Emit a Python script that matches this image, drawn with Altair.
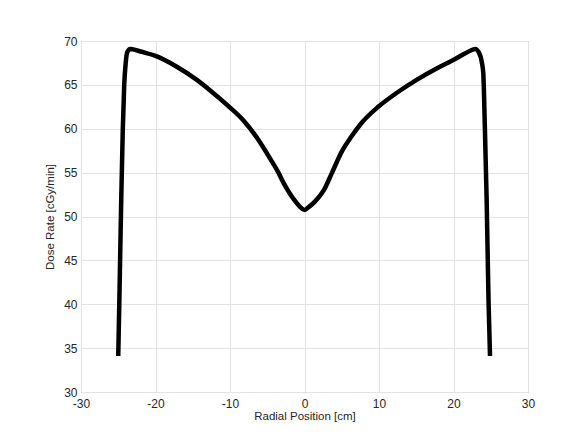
import altair as alt
import pandas as pd

radial_cm = [-25.0, -24.85, -24.6, -24.4, -24.2, -24.0, -23.8, -23.4, -23.0, -22.0, -20.0,
             -17.2, -14.5, -12.7, -10.1, -8.25, -6.0, -4.4, -3.5, -2.8, -2.1, -1.3, -0.6, 0.0,
             0.6, 1.4, 2.6, 3.7, 5.0, 6.2, 7.6, 9.9, 12.4, 15.1, 17.8, 19.9, 21.8, 22.9,
             23.4, 23.8, 24.0, 24.2, 24.45, 24.7, 24.9]
dose_rate = [34.1, 40.5, 51.9, 59.6, 65.0, 67.5, 68.7, 69.1, 69.05, 68.8, 68.3,
             67.1, 65.6, 64.4, 62.5, 61.0, 58.5, 56.3, 55.0, 53.8, 52.8, 51.8, 51.1, 50.75,
             51.1, 51.7, 53.0, 55.0, 57.4, 59.0, 60.6, 62.5, 64.1, 65.6, 66.9, 67.8, 68.7, 69.1,
             68.7, 67.6, 66.3, 60.5, 51.9, 40.5, 34.1]

x_ticks = [-30, -20, -10, 0, 10, 20, 30]
y_ticks = [30, 35, 40, 45, 50, 55, 60, 65, 70]

df = pd.DataFrame({"x": radial_cm, "y": dose_rate})

font = "Liberation Sans"

chart = alt.Chart(df).mark_line(
    color="black", strokeWidth=4.5, interpolate="monotone", strokeJoin="round"
).encode(
    x=alt.X("x:Q", scale=alt.Scale(domain=[-30, 30], nice=False),
            axis=alt.Axis(title="Radial Position [cm]", values=x_ticks,
                          labelExpr="'' + datum.value",
                          labelFlush=False, labelPadding=6, titlePadding=1)),
    y=alt.Y("y:Q", scale=alt.Scale(domain=[30, 70], nice=False, zero=False),
            axis=alt.Axis(title="Dose Rate [cGy/min]", values=y_ticks,
                          labelExpr="'' + datum.value",
                          labelFlush=False, labelPadding=4, titlePadding=8)),
).properties(
    width=447, height=351,
    autosize=alt.AutoSizeParams(type="none"),
    padding={"left": 73, "top": 33, "right": 38, "bottom": 42},
    background="white",
).configure_axis(
    grid=True, gridColor="#e3e3e3", gridWidth=1,
    domain=False, ticks=False,
    labelFont=font, labelFontSize=12, labelColor="#262626",
    titleFont=font, titleFontSize=11.5, titleFontWeight="normal", titleColor="#262626",
).configure_view(
    stroke="#8a8a8a", strokeWidth=1
)

chart.save("out.html", embed_options={"renderer": "svg", "actions": False})
